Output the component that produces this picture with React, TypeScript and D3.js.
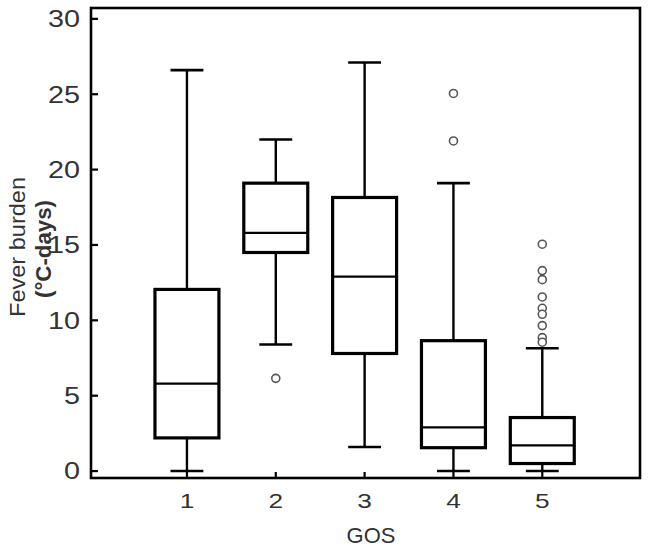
import React, { useEffect, useRef } from "react";
import * as d3 from "d3";

const categories = [1, 2, 3, 4, 5];
const lowerWhisker = [0, 8.4, 1.6, 0, 0];
const q1 = [2.2, 14.5, 7.8, 1.55, 0.5];
const median = [5.8, 15.8, 12.9, 2.9, 1.7];
const q3 = [12.05, 19.1, 18.15, 8.65, 3.55];
const upperWhisker = [26.6, 22.0, 27.1, 19.1, 8.15];
const outliers = [
  [],
  [6.15],
  [],
  [25.05, 21.9],
  [15.05, 13.3, 12.7, 11.55, 10.8, 10.4, 9.65, 8.85, 8.55],
];
const yTicks = [0, 5, 10, 15, 20, 25, 30];

function App() {
  const chartRef = useRef<SVGSVGElement>(null);

  useEffect(() => {
    drawChart();
  }, []);

  const drawChart = () => {
    const svg = d3.select(chartRef.current);
    svg.selectAll("*").remove();

    const left = 91,
      right = 640,
      top = 8,
      bottom = 478;
    const font = "Liberation Sans, Arial, sans-serif";
    const textColor = "#333";

    const x = d3.scaleLinear().domain([-0.08, 6.1]).range([left, right]);
    const y = d3.scaleLinear().domain([-0.46, 30.72]).range([bottom, top]);

    const boxHalf = 0.36;
    const capHalf = 0.185;

    // frame
    svg
      .append("rect")
      .attr("x", left)
      .attr("y", top)
      .attr("width", right - left)
      .attr("height", bottom - top)
      .attr("fill", "none")
      .attr("stroke", "#000")
      .attr("stroke-width", 2.6);

    // y ticks (inward)
    svg
      .selectAll(".ytick")
      .data(yTicks)
      .join("line")
      .attr("x1", left)
      .attr("x2", left + 7)
      .attr("y1", (d) => y(d))
      .attr("y2", (d) => y(d))
      .attr("stroke", "#000")
      .attr("stroke-width", 2.2);

    svg
      .selectAll(".ylab")
      .data(yTicks)
      .join("g")
      .attr("transform", (d) => `translate(80,${y(d)}) scale(1.25,1)`)
      .append("text")
      .attr("text-anchor", "end")
      .attr("dy", "0.36em")
      .attr("font-family", font)
      .attr("font-size", 23)
      .attr("fill", textColor)
      .text((d) => d);

    // x ticks (inward)
    svg
      .selectAll(".xtick")
      .data(categories)
      .join("line")
      .attr("x1", (d) => x(d))
      .attr("x2", (d) => x(d))
      .attr("y1", bottom)
      .attr("y2", bottom - 6)
      .attr("stroke", "#000")
      .attr("stroke-width", 2.2);

    svg
      .selectAll(".xlab")
      .data(categories)
      .join("g")
      .attr("transform", (d) => `translate(${x(d)},508) scale(1.25,1)`)
      .append("text")
      .attr("text-anchor", "middle")
      .attr("font-family", font)
      .attr("font-size", 21)
      .attr("fill", textColor)
      .text((d) => d);

    // axis titles
    svg
      .append("text")
      .attr("x", 371)
      .attr("y", 543)
      .attr("text-anchor", "middle")
      .attr("font-family", font)
      .attr("font-size", 22)
      .attr("fill", textColor)
      .text("GOS");

    svg
      .append("text")
      .attr("transform", "translate(25,247) rotate(-90)")
      .attr("text-anchor", "middle")
      .attr("font-family", font)
      .attr("font-size", 22)
      .attr("fill", textColor)
      .attr("textLength", 140)
      .attr("lengthAdjust", "spacingAndGlyphs")
      .text("Fever burden");

    svg
      .append("text")
      .attr("transform", "translate(51,249) rotate(-90)")
      .attr("text-anchor", "middle")
      .attr("font-family", font)
      .attr("font-size", 22)
      .attr("font-weight", "bold")
      .attr("fill", textColor)
      .attr("textLength", 98)
      .attr("lengthAdjust", "spacingAndGlyphs")
      .text("(°C-days)");

    const groups = svg
      .selectAll(".box")
      .data(categories)
      .join("g");

    // whiskers
    groups
      .append("line")
      .attr("x1", (d) => x(d))
      .attr("x2", (d) => x(d))
      .attr("y1", (d, i) => y(upperWhisker[i]))
      .attr("y2", (d, i) => y(q3[i]))
      .attr("stroke", "#000")
      .attr("stroke-width", 2.4);
    groups
      .append("line")
      .attr("x1", (d) => x(d))
      .attr("x2", (d) => x(d))
      .attr("y1", (d, i) => y(q1[i]))
      .attr("y2", (d, i) => y(lowerWhisker[i]))
      .attr("stroke", "#000")
      .attr("stroke-width", 2.4);

    // caps
    [upperWhisker, lowerWhisker].forEach((arr) => {
      groups
        .append("line")
        .attr("x1", (d) => x(d - capHalf))
        .attr("x2", (d) => x(d + capHalf))
        .attr("y1", (d, i) => y(arr[i]))
        .attr("y2", (d, i) => y(arr[i]))
        .attr("stroke", "#000")
        .attr("stroke-width", 2.6);
    });

    // boxes
    groups
      .append("rect")
      .attr("x", (d) => x(d - boxHalf))
      .attr("width", (d) => x(d + boxHalf) - x(d - boxHalf))
      .attr("y", (d, i) => y(q3[i]))
      .attr("height", (d, i) => y(q1[i]) - y(q3[i]))
      .attr("fill", "#fff")
      .attr("stroke", "#000")
      .attr("stroke-width", 3.2);

    // medians
    groups
      .append("line")
      .attr("x1", (d) => x(d - boxHalf))
      .attr("x2", (d) => x(d + boxHalf))
      .attr("y1", (d, i) => y(median[i]))
      .attr("y2", (d, i) => y(median[i]))
      .attr("stroke", "#000")
      .attr("stroke-width", 2.3);

    // outliers
    groups
      .selectAll("circle")
      .data((d, i) => outliers[i].map((v) => ({ c: d, v })))
      .join("circle")
      .attr("cx", (p) => x(p.c))
      .attr("cy", (p) => y(p.v))
      .attr("r", 4)
      .attr("fill", "#fff")
      .attr("stroke", "#555")
      .attr("stroke-width", 1.6);
  };

  return (
    <svg
      ref={chartRef}
      width={649}
      height={550}
      style={{ position: "absolute", left: 0, top: 0, background: "#fff" }}
    ></svg>
  );
}

export default App;
